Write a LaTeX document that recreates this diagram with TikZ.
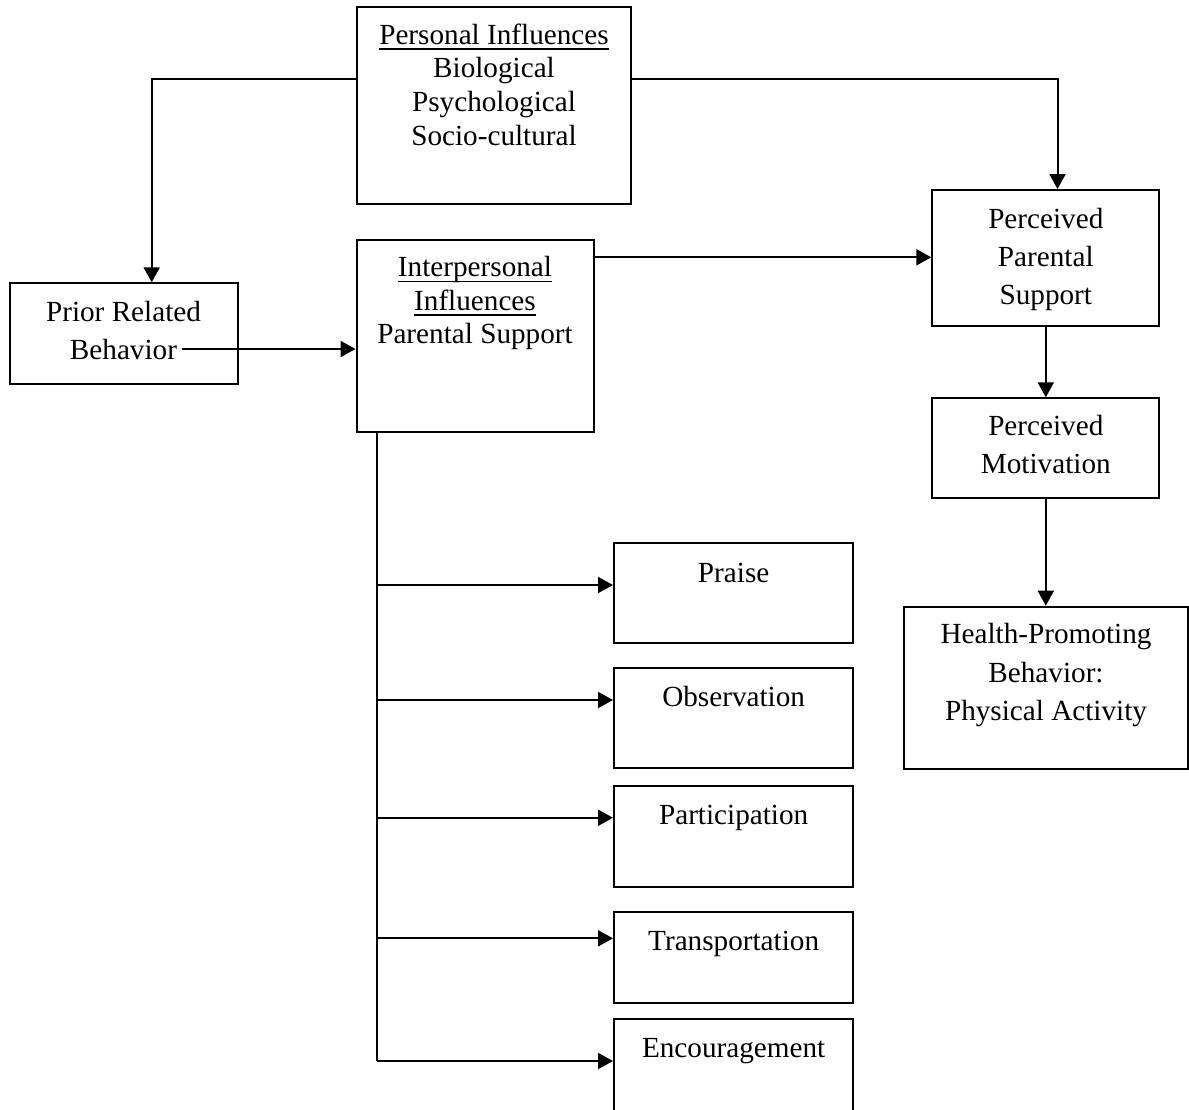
\documentclass[tikz,border=0pt]{standalone}
\usepackage{fontspec}
\setmainfont{Liberation Serif}
\usetikzlibrary{arrows.meta}
\newcommand\myul[1]{\setbox0\hbox{#1}\rlap{\rule[-3pt]{\wd0}{0.8pt}}\box0}
\tikzset{
  box/.style={draw, line width=1pt, inner sep=0pt},
  txt/.style={align=center, inner sep=0pt, anchor=north, font=\fontsize{14.6}{19.2}\selectfont},
  txtb/.style={align=center, inner sep=0pt, anchor=north, font=\fontsize{14.6}{16.9}\selectfont},
  arr/.style={line width=1pt, -{Triangle[length=7.5pt,width=8pt]}},
  plain/.style={line width=1pt}
}
\begin{document}
\begin{tikzpicture}[x=0.5pt,y=-0.5pt]
\useasboundingbox (0,0) rectangle (1189,1109);
% boxes
\node[box, minimum width=137pt, minimum height=98.5pt] (pi) at (494,105.5) {};
\node[box, minimum width=114pt, minimum height=50.5pt] (prior) at (123.5,333.8) {};
\node[box, minimum width=118.5pt, minimum height=96pt] (inter) at (475,336) {};
\node[box, minimum width=113.5pt, minimum height=67.85pt] (pps) at (1045.8,257.85) {};
\node[box, minimum width=113.5pt, minimum height=50pt] (pm) at (1045.8,448.3) {};
\node[box, minimum width=142pt, minimum height=81.15pt] (hpb) at (1046,687.85) {};
\node[box, minimum width=119.65pt, minimum height=50pt] (praise) at (733.65,593.3) {};
\node[box, minimum width=119.65pt, minimum height=50pt] (obs) at (733.65,718.3) {};
\node[box, minimum width=119.65pt, minimum height=50.35pt] (part) at (733.65,836.35) {};
\node[box, minimum width=119.65pt, minimum height=45.5pt] (trans) at (733.65,957.2) {};
\node[box, minimum width=119.65pt, minimum height=55.5pt] (enc) at (733.65,1074.5) {};
% texts
\node[txtb] (piT) at (494,20) {\strut\myul{Personal Influences}\\Biological\\Psychological\\Socio-cultural};
\node[txtb] (interT) at (475,252.2) {\strut\myul{Interpersonal}\\\myul{Influences}\\Parental Support};
\node[txt] (priorT) at (123.5,293.8) {\strut Prior Related\\Behavior};
\node[txt] (ppsT) at (1045.8,200.8) {\strut Perceived\\Parental\\Support};
\node[txt] (pmT) at (1045.8,408.1) {\strut Perceived\\Motivation};
\node[txt] (hpbT) at (1046,616.4) {\strut Health-Promoting\\Behavior:\\Physical Activity};
\node[txt] (praiseT) at (733.65,554.8) {\strut Praise};
\node[txt] (obsT) at (733.65,678.8) {\strut Observation};
\node[txt] (partT) at (733.65,797.6) {\strut Participation};
\node[txt] (transT) at (733.65,923.1) {\strut Transportation};
\node[txt] (encT) at (733.65,1030.1) {\strut Encouragement};
% helper coordinates
\coordinate (yL) at (0,79);
\coordinate (xL) at (151.7,0);
\coordinate (xR) at (1057.5,0);
\coordinate (pb) at (181.7,349);
\coordinate (yA) at (0,257.3);
\coordinate (xT) at (377.3,0);
% connectors
\draw[arr] (pi.west |- yL) -| (xL |- prior.north);
\draw[arr] (pi.east |- yL) -| (xR |- pps.north);
\draw[arr] (pb) -- (pb -| inter.west);
\draw[arr] (inter.east |- yA) -- (pps.west |- yA);
\draw[arr] (pps.south) -- (pm.north);
\draw[arr] (pm.south) -- (hpb.north -| pm.south);
\draw[plain] (inter.south -| xT) -- ([yshift=6.75pt]enc.west -| xT);
\draw[arr] ([yshift=4.15pt]praise.west -| xT) -- ([yshift=4.15pt]praise.west);
\draw[arr] ([yshift=9.15pt]obs.west -| xT) -- ([yshift=9.15pt]obs.west);
\draw[arr] ([yshift=9.3pt]part.west -| xT) -- ([yshift=9.3pt]part.west);
\draw[arr] ([yshift=9.45pt]trans.west -| xT) -- ([yshift=9.45pt]trans.west);
\draw[arr] ([yshift=6.75pt]enc.west -| xT) -- ([yshift=6.75pt]enc.west);
\end{tikzpicture}
\end{document}
